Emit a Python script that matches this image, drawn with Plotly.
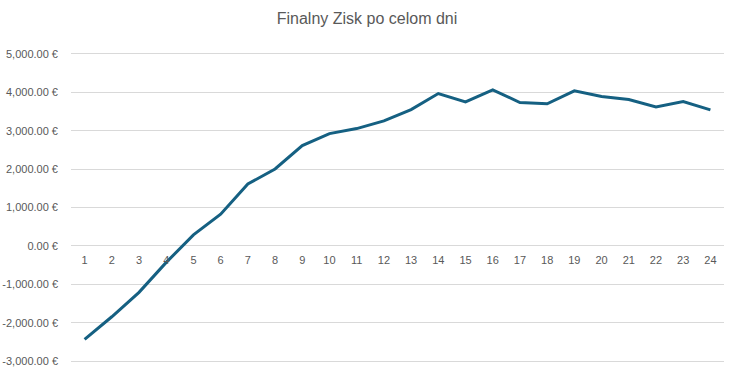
import plotly.graph_objects as go

days = [str(i) for i in range(1, 25)]
profit = [-2436, -1846, -1209, -430, 287, 827, 1611, 2003, 2611, 2924, 3055, 3256,
          3551, 3969, 3752, 4065, 3734, 3700, 4039, 3890, 3812, 3621, 3760, 3543]
y_tickvals = [5000, 4000, 3000, 2000, 1000, 0, -1000, -2000, -3000]
y_ticktext = ["5,000.00 €", "4,000.00 €", "3,000.00 €", "2,000.00 €", "1,000.00 €",
              "0.00 €", "-1,000.00 €", "-2,000.00 €", "-3,000.00 €"]
title = "Finalny Zisk po celom dni"

grey = "#595959"
grid = "#D9D9D9"

y_min, y_max = -3050, 5050

fig = go.Figure()
fig.add_trace(go.Scatter(x=days, y=profit, mode="lines",
                         line=dict(color="#156082", width=3), hoverinfo="x+y"))

fig.update_layout(
    width=734, height=381,
    margin=dict(l=71, r=10, t=52, b=18),
    paper_bgcolor="white", plot_bgcolor="white",
    showlegend=False,
    font=dict(family="Liberation Sans, Arial, sans-serif", size=11, color=grey),
    title=dict(text=title, x=0.5, xanchor="center", y=1 - 18 / 381, yanchor="middle",
               font=dict(size=16, color=grey, family="Liberation Sans, Arial, sans-serif")),
    xaxis=dict(type="category", range=[-0.5, 23.5], showgrid=False, showline=False,
               zeroline=False, anchor="free", position=(0 - y_min) / (y_max - y_min),
               ticks="", automargin=False,
               ticklabelstandoff=6, tickfont=dict(size=11, color=grey)),
    yaxis=dict(range=[y_min, y_max], tickvals=y_tickvals, ticktext=y_ticktext,
               showgrid=True, gridcolor=grid, gridwidth=1, zeroline=True,
               zerolinecolor=grid, zerolinewidth=1, showline=False, ticks="",
               automargin=False,
               ticklabelstandoff=12, tickfont=dict(size=11, color=grey)),
)

fig.write_html("out.html", config={"displayModeBar": False},
               post_script="document.body.style.margin='0';")
